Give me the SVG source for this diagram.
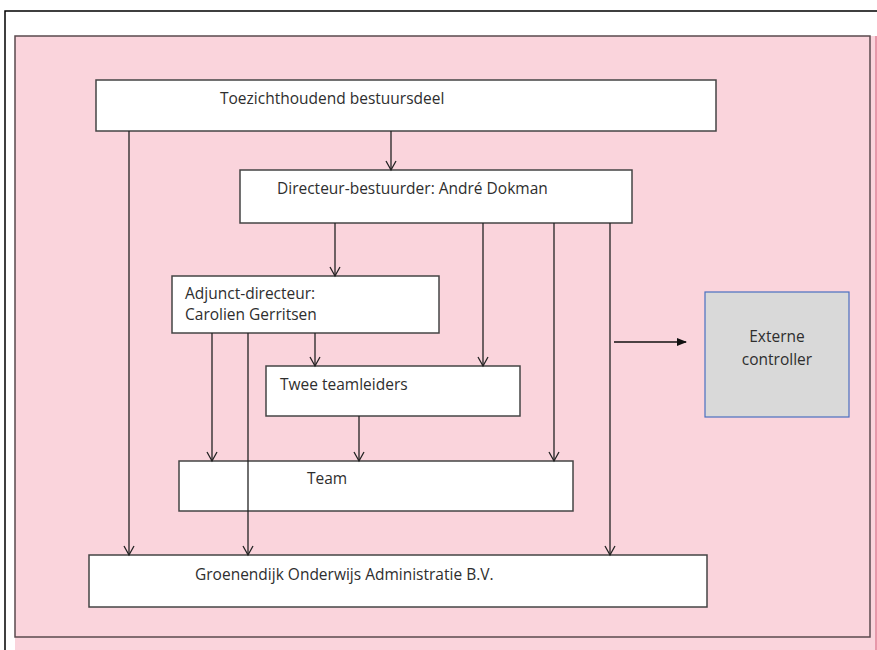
<svg xmlns="http://www.w3.org/2000/svg" width="877" height="650" viewBox="0 0 877 650">
<defs>
<marker id="open" markerWidth="12" markerHeight="12" refX="10" refY="6" orient="auto" markerUnits="userSpaceOnUse" viewBox="0 0 12 12">
<path d="M1,1 L10,6 L1,11" fill="none" stroke="#222" stroke-width="1.3"/>
</marker>
<marker id="solid" markerWidth="10" markerHeight="10" refX="9" refY="5" orient="auto" markerUnits="userSpaceOnUse" viewBox="0 0 10 10">
<path d="M0,1 L10,5 L0,9 Z" fill="#111"/>
</marker>
</defs>
<style>
.box{fill:#fff;stroke:#444;stroke-width:1.5}
.t{font-family:"Open Sans","Liberation Sans",sans-serif;font-size:15.5px;fill:#2e2e2e}
.c{fill:none;stroke:#222;stroke-width:1.3;marker-end:url(#open)}
</style>
<rect x="0" y="0" width="877" height="650" fill="#fff"/>
<path d="M5,650 L5,11 L877,11" fill="none" stroke="#000" stroke-width="1.5"/>
<rect x="15" y="36" width="862" height="614" fill="#fad4dc"/>
<rect x="15" y="36" width="855" height="601" fill="none" stroke="#5a4a4e" stroke-width="1.5"/>
<line x1="876" y1="36" x2="876" y2="650" stroke="#e0849a" stroke-width="1.5"/>
<g id="toezicht"><rect class="box" x="96" y="80" width="620" height="51"/><text class="t" x="220" y="104">Toezichthoudend bestuursdeel</text></g>
<g id="directeur"><rect class="box" x="240" y="170" width="392" height="53"/><text class="t" x="277" y="194">Directeur-bestuurder: André Dokman</text></g>
<g id="adjunct"><rect class="box" x="172" y="276" width="267" height="57"/><text class="t" x="185" y="299">Adjunct-directeur:</text><text class="t" x="185" y="320">Carolien Gerritsen</text></g>
<g id="teamleiders"><rect class="box" x="266" y="366" width="254" height="50"/><text class="t" x="280" y="390">Twee teamleiders</text></g>
<g id="team"><rect class="box" x="179" y="461" width="394" height="50"/><text class="t" x="307" y="484">Team</text></g>
<g id="groenendijk"><rect class="box" x="89" y="555" width="618" height="52"/><text class="t" x="195" y="580">Groenendijk Onderwijs Administratie B.V.</text></g>
<g id="extern"><rect x="705" y="292" width="144" height="125" fill="#d9d9d9" stroke="#4a6fc0" stroke-width="1.2"/><text class="t" x="777" y="342" text-anchor="middle">Externe</text><text class="t" x="777" y="365" text-anchor="middle">controller</text></g>
<g id="connectors">
<line class="c" x1="129" y1="131" x2="129" y2="555"/>
<line class="c" x1="391" y1="131" x2="391" y2="170"/>
<line class="c" x1="335" y1="223" x2="335" y2="276"/>
<line class="c" x1="483" y1="223" x2="483" y2="366"/>
<line class="c" x1="554" y1="223" x2="554" y2="461"/>
<line class="c" x1="610" y1="223" x2="610" y2="555"/>
<line class="c" x1="212" y1="333" x2="212" y2="461"/>
<line class="c" x1="248" y1="333" x2="248" y2="555"/>
<line class="c" x1="315" y1="333" x2="315" y2="366"/>
<line class="c" x1="359" y1="416" x2="359" y2="461"/>
<line x1="614" y1="342" x2="686" y2="342" stroke="#111" stroke-width="1.3" marker-end="url(#solid)"/>
</g>
</svg>
